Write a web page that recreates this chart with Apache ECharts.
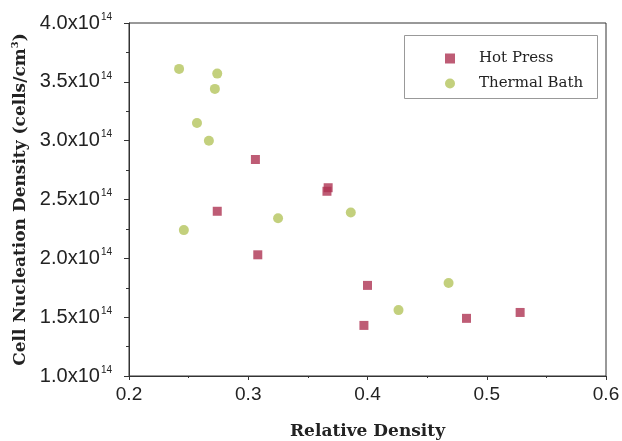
<!DOCTYPE html>
<html>
<head>
<meta charset="utf-8">
<script src="https://cdn.jsdelivr.net/npm/echarts@6.0.0/dist/echarts.min.js"></script>
<style>
  html, body { margin: 0; padding: 0; background: #fff; }
  #root { width: 622px; height: 441px; }
</style>
</head>
<body>
<div id="root"></div>
<script>
// relative density / nucleation density (in units of 1e14 cells/cm3)
const hotPressX = [0.306, 0.367, 0.366, 0.274, 0.308, 0.400, 0.397, 0.483, 0.528]
const hotPressY = [2.84, 2.60, 2.57, 2.40, 2.03, 1.77, 1.43, 1.49, 1.54]
const thermalBathX = [0.242, 0.274, 0.272, 0.257, 0.267, 0.246, 0.325, 0.386, 0.468, 0.426]
const thermalBathY = [3.61, 3.57, 3.44, 3.15, 3.00, 2.24, 2.34, 2.39, 1.79, 1.56]
const yTicks = ['1.0', '1.5', '2.0', '2.5', '3.0', '3.5', '4.0']

const zip = (xs, ys) => xs.map((x, i) => [x, ys[i]])

const myChart = echarts.init(document.getElementById('root'))

const axisColor = '#333'
const labelFont = 'Liberation Sans, Arial, sans-serif'
const serifFont = '"DejaVu Serif", "Liberation Serif", serif'

const option = {
  animation: false,
  backgroundColor: '#fff',
  grid: {
    left: 129,
    right: 16,
    top: 23,
    bottom: 65,
    outerBoundsMode: 'none',
    containLabel: false,
    show: true,
    borderColor: axisColor,
    borderWidth: 1
  },
  legend: {
    orient: 'vertical',
    left: 440,
    top: 46,
    itemWidth: 10,
    itemHeight: 10,
    itemGap: 10,
    textStyle: {
      fontFamily: serifFont,
      fontSize: 15,
      color: '#222',
      padding: [0, 0, 0, 19]
    },
    data: ['Hot Press', 'Thermal Bath']
  },
  graphic: [{
    type: 'rect',
    shape: { x: 404.5, y: 35.5, width: 193, height: 63 },
    style: { fill: 'none', stroke: '#999', lineWidth: 1 },
    z: 0
  }],
  xAxis: {
    type: 'value',
    min: 0.2,
    max: 0.6,
    interval: 0.1,
    name: 'Relative Density',
    nameLocation: 'middle',
    nameGap: 47,
    nameTextStyle: { fontFamily: serifFont, fontWeight: 'bold', fontSize: 17, color: '#222' },
    axisLine: { show: true, lineStyle: { color: axisColor } },
    axisTick: { show: true, length: 4, lineStyle: { color: axisColor } },
    minorTick: { show: true, splitNumber: 2, length: 2, lineStyle: { color: axisColor } },
    splitLine: { show: false },
    axisLabel: {
      margin: 9,
      fontFamily: labelFont,
      fontSize: 19,
      color: '#222',
      formatter: v => v.toFixed(1)
    }
  },
  yAxis: {
    type: 'value',
    min: 1,
    max: 4,
    interval: 0.5,
    name: 'Cell Nucleation Density (cells/cm{sup|3})',
    nameLocation: 'middle',
    nameGap: 90,
    nameTextStyle: {
      fontFamily: serifFont, fontWeight: 'bold', fontSize: 17, color: '#222',
      rich: { sup: { fontFamily: serifFont, fontWeight: 'bold', fontSize: 10, verticalAlign: 'top', lineHeight: 20 } }
    },
    axisLine: { show: true, lineStyle: { color: axisColor } },
    axisTick: { show: true, length: 5, lineStyle: { color: axisColor } },
    minorTick: { show: true, splitNumber: 2, length: 3, lineStyle: { color: axisColor } },
    splitLine: { show: false },
    axisLabel: {
      margin: 17,
      formatter: v => {
        const lbl = yTicks.find(t => Math.abs(parseFloat(t) - v) < 1e-6) || v.toFixed(1)
        return '{a|' + lbl + 'x10}{b|14}'
      },
      rich: {
        a: { fontFamily: labelFont, fontSize: 20, color: '#222', lineHeight: 22, verticalAlign: 'middle' },
        b: { fontFamily: labelFont, fontSize: 10, color: '#222', lineHeight: 22, verticalAlign: 'top', padding: [0, 0, 0, 1] }
      }
    }
  },
  series: [
    {
      name: 'Hot Press',
      type: 'scatter',
      symbol: 'rect',
      symbolSize: 9,
      itemStyle: { color: '#ae3352' },
      data: zip(hotPressX, hotPressY)
    },
    {
      name: 'Thermal Bath',
      type: 'scatter',
      symbol: 'circle',
      symbolSize: 10,
      itemStyle: { color: '#b4c45c' },
      data: zip(thermalBathX, thermalBathY)
    }
  ]
}

myChart.setOption(option)
</script>
</body>
</html>
